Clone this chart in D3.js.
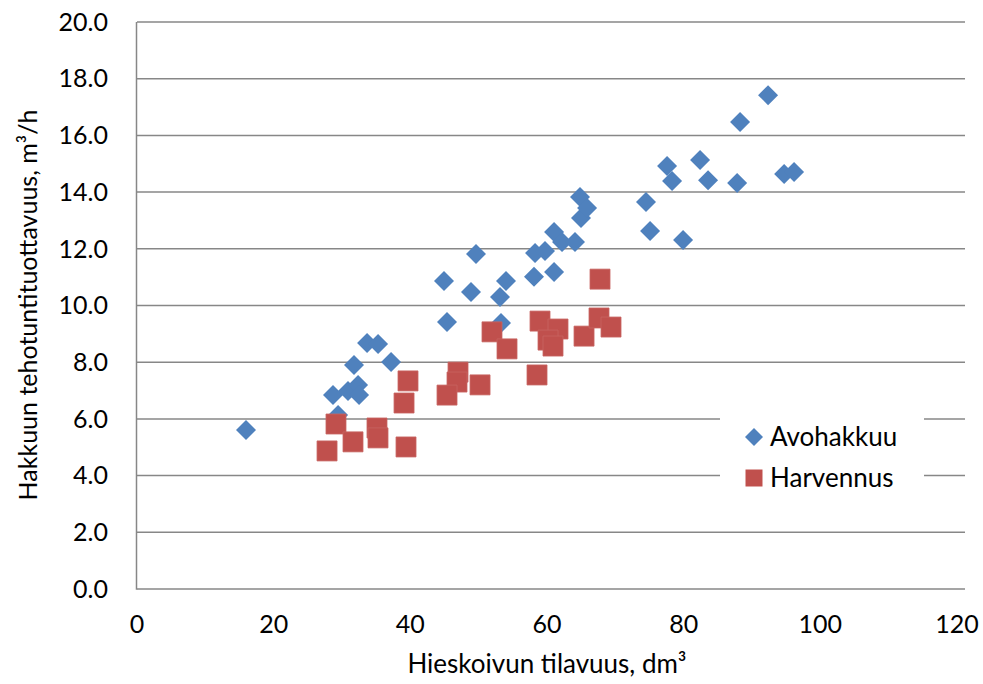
<!DOCTYPE html>
<html>
<head>
<meta charset="utf-8">
<script src="https://cdn.jsdelivr.net/npm/d3@7"></script>
<style>
  body { margin: 0; background: #fff; }
  text { font-family: Lato, "Open Sans", sans-serif; fill: #000; }
</style>
</head>
<body>
<div class="canvas"></div>
<script>
// data
const avohakkuu = [
  [15.95, 5.61], [28.68, 6.84], [29.42, 6.14], [30.88, 6.98], [31.76, 7.90],
  [32.35, 7.20], [32.50, 6.84], [33.67, 8.68], [35.28, 8.64], [37.18, 8.01],
  [44.93, 10.86], [45.37, 9.42], [48.88, 10.48], [49.61, 11.82], [53.12, 10.30],
  [53.27, 9.38], [54.00, 10.86], [58.10, 11.01], [58.25, 11.85], [59.71, 11.92],
  [61.03, 11.18], [61.03, 12.59], [62.20, 12.24], [64.10, 12.24], [64.83, 13.83],
  [64.98, 13.09], [65.86, 13.44], [74.49, 13.65], [75.08, 12.63], [77.57, 14.92],
  [78.30, 14.39], [79.91, 12.31], [82.40, 15.13], [83.57, 14.42], [87.82, 14.32],
  [88.25, 16.47], [92.35, 17.42], [94.70, 14.64], [96.16, 14.71]
];
const harvennus = [
  [67.76, 10.93], [51.95, 9.07], [54.15, 8.47], [58.98, 9.45], [61.61, 9.17],
  [60.15, 8.78], [60.88, 8.57], [65.42, 8.92], [67.61, 9.56], [69.37, 9.24],
  [58.54, 7.55], [46.98, 7.65], [46.83, 7.30], [50.20, 7.20], [45.37, 6.84],
  [39.66, 7.34], [39.08, 6.56], [29.12, 5.82], [31.61, 5.19], [27.81, 4.87],
  [35.12, 5.68], [35.27, 5.33], [39.37, 5.01]
];
const xTicks = [0, 20, 40, 60, 80, 100, 120];
const yTicks = [0, 2, 4, 6, 8, 10, 12, 14, 16, 18, 20];
const seriesNames = ['Avohakkuu', 'Harvennus'];
const seriesColors = ['#4F81BD', '#C0504D'];

const width = 983, height = 684;
const svg = d3.select('.canvas')
  .append('svg')
    .attr('width', width)
    .attr('height', height);

const x = d3.scaleLinear().domain([0, 120]).range([137, 957]);
const y = d3.scaleLinear().domain([0, 20]).range([589, 22]);
const gridRight = 965;
const gridColor = '#878787';

// legend box area (gridlines break behind it)
const legend = {x0: 720, x1: 924, y0: 412, y1: 497};

// gridlines
yTicks.forEach(t => {
  const yy = y(t);
  if (yy > legend.y0 && yy < legend.y1) {
    svg.append('line').attr('x1', x(0)).attr('x2', legend.x0).attr('y1', yy).attr('y2', yy)
      .attr('stroke', gridColor).attr('stroke-width', 1.5);
    svg.append('line').attr('x1', legend.x1).attr('x2', gridRight).attr('y1', yy).attr('y2', yy)
      .attr('stroke', gridColor).attr('stroke-width', 1.5);
  } else {
    svg.append('line').attr('x1', x(0)).attr('x2', gridRight).attr('y1', yy).attr('y2', yy)
      .attr('stroke', gridColor).attr('stroke-width', 1.5);
  }
});

// axis line
svg.append('line').attr('x1', x(0) - 0.5).attr('x2', x(0) - 0.5).attr('y1', y(20)).attr('y2', y(0) + 0.75)
  .attr('stroke', gridColor).attr('stroke-width', 1.5);

// tick labels
svg.append('g').selectAll('text').data(yTicks).join('text')
  .attr('x', 108)
  .attr('y', d => y(d))
  .attr('dy', '0.35em')
  .attr('text-anchor', 'end')
  .attr('font-size', 25)
  .text(d => d.toFixed(1));

svg.append('g').selectAll('text').data(xTicks).join('text')
  .attr('x', d => x(d))
  .attr('y', 633)
  .attr('text-anchor', 'middle')
  .attr('font-size', 25)
  .text(d => d);

// axis titles
svg.append('text')
  .attr('x', 547).attr('y', 673)
  .attr('text-anchor', 'middle')
  .attr('font-size', 26)
  .text('Hieskoivun tilavuus, dm³');

svg.append('text')
  .attr('transform', 'translate(37,305) rotate(-90)')
  .attr('text-anchor', 'middle')
  .attr('font-size', 25)
  .text('Hakkuun tehotuntituottavuus, m³/h');

// markers
const diamond = d3.symbol().type(d3.symbolSquare).size(200);
const square = d3.symbol().type(d3.symbolSquare).size(400);

svg.append('g').selectAll('path').data(avohakkuu).join('path')
  .attr('d', diamond)
  .attr('transform', d => `translate(${x(d[0])},${y(d[1])}) rotate(45)`)
  .attr('fill', seriesColors[0]);

svg.append('g').selectAll('path').data(harvennus).join('path')
  .attr('d', square)
  .attr('transform', d => `translate(${x(d[0])},${y(d[1])})`)
  .attr('fill', seriesColors[1])
  .attr('stroke', '#c86562')
  .attr('stroke-width', 0.8);

// legend
const lg = svg.append('g');
seriesNames.forEach((name, i) => {
  const cy = 437 + i * 41;
  if (i === 0) {
    lg.append('path').attr('d', d3.symbol().type(d3.symbolSquare).size(162))
      .attr('transform', `translate(754,${cy}) rotate(45)`)
      .attr('fill', seriesColors[0]);
  } else {
    lg.append('path').attr('d', d3.symbol().type(d3.symbolSquare).size(289))
      .attr('transform', `translate(754,${cy})`)
      .attr('fill', seriesColors[1]);
  }
  lg.append('text')
    .attr('x', 770).attr('y', cy)
    .attr('dy', '0.36em')
    .attr('font-size', 26)
    .text(name);
});
</script>
</body>
</html>
